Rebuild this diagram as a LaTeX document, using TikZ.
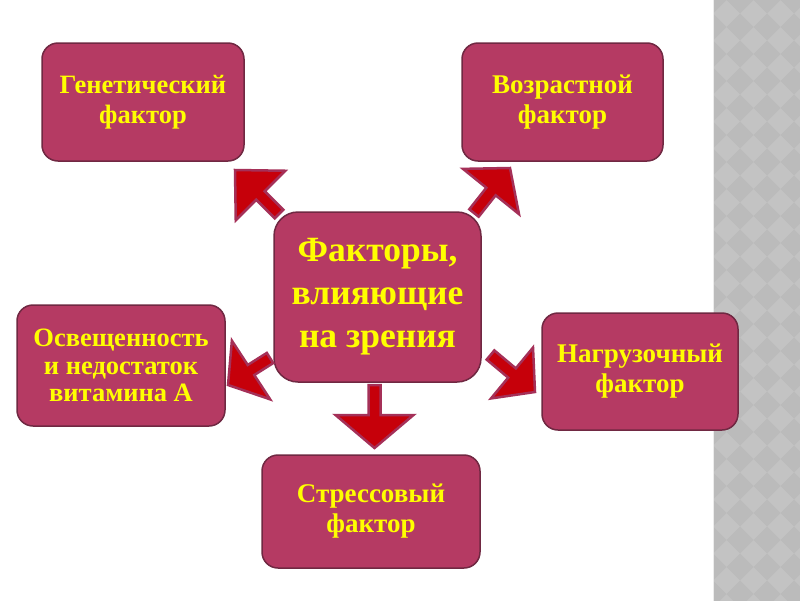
\documentclass[tikz,border=0pt]{standalone}
\usepackage{fontspec}
\setmainfont{Liberation Serif}
\usetikzlibrary{calc}
\definecolor{boxfill}{RGB}{181,58,99}
\definecolor{boxline}{RGB}{112,40,66}
\definecolor{arrfill}{RGB}{198,0,10}
\definecolor{arrline}{RGB}{165,48,88}
\definecolor{txtyellow}{RGB}{255,255,0}
\definecolor{stripA}{RGB}{195,195,195}
\definecolor{stripB}{RGB}{187,187,187}
\newcommand{\blockarr}[5]{%
  \draw[blockarrow] ($(#1)!#4!90:(#2)$) -- ($(#2)!#4!90:(#3)$) -- ($(#2)!#5!90:(#3)$) -- (#3)
    -- ($(#2)!#5!-90:(#3)$) -- ($(#2)!#4!-90:(#3)$) -- ($(#1)!#4!-90:(#2)$) -- cycle;}
\begin{document}
\begin{tikzpicture}[x=1pt,y=-1pt,
  factor/.style={draw=boxline, line width=1.5pt, fill=boxfill, rounded corners=16pt,
    text=txtyellow, font=\bfseries\fontsize{27}{30}\selectfont, align=center, inner sep=0pt},
  mainbox/.style={factor, rounded corners=24pt, font=\bfseries\fontsize{35.5}{43}\selectfont},
  blockarrow/.style={draw=arrline, fill=arrfill, line width=2.5pt, line join=miter}]
\useasboundingbox (0,0) rectangle (800,600);
\fill[white] (0,0) rectangle (800,600);
% patterned strip on the right
\begin{scope}
  \clip (713,-5) rectangle (805,610);
  \fill[stripA] (713,-5) rectangle (805,610);
  \foreach \i in {0,...,4} {
    \foreach \j in {0,...,23} {
      \fill[stripB] ({713+27*\i-13.5},{27*\j}) -- ({713+27*\i},{27*\j-13.5})
        -- ({713+27*\i+13.5},{27*\j}) -- ({713+27*\i},{27*\j+13.5}) -- cycle;
    }
  }
\end{scope}
\draw[white!85!gray, line width=1.2pt] (713.6,-5) -- (713.6,605);
% boxes
\node[factor, minimum width=202pt, minimum height=118pt, font=\bfseries\fontsize{26.5}{30}\selectfont] (gen) at (143,102) {Генетический\\фактор};
\node[factor, minimum width=201pt, minimum height=118pt] (voz) at (562.5,102) {Возрастной\\фактор};
\node[mainbox, minimum width=207pt, minimum height=170pt] (main) at (377.5,297) {Факторы,\\влияющие\\на зрения};
\node[factor, minimum width=208pt, minimum height=121pt, font=\bfseries\fontsize{26.5}{27.5}\selectfont] (osv) at (121,365.5) {Освещенность\\и недостаток\\витамина А};
\node[factor, minimum width=196pt, minimum height=117pt] (nag) at (640,371.5) {Нагрузочный\\фактор};
\node[factor, minimum width=218pt, minimum height=113pt] (str) at (371,511.5) {Стрессовый\\фактор};
% block arrows
\coordinate (a1s) at (279,214); \coordinate (a1b) at (260.5,195.5); \coordinate (a1t) at (235,170);
\coordinate (a2s) at (474,213); \coordinate (a2b) at (491,191.5); \coordinate (a2t) at (510,168);
\coordinate (a3s) at (270,358); \coordinate (a3b) at (251,370); \coordinate (a3t) at (228,385);
\coordinate (a4s) at (490.5,355); \coordinate (a4b) at (512,373); \coordinate (a4t) at (535,392);
\coordinate (a5s) at (374.5,385); \coordinate (a5b) at (374.5,415); \coordinate (a5t) at (374.5,448);
\blockarr{a1s}{a1b}{a1t}{6pt}{35pt}
\blockarr{a2s}{a2b}{a2t}{6pt}{36pt}
\blockarr{a3s}{a3b}{a3t}{6pt}{35pt}
\blockarr{a4s}{a4b}{a4t}{6pt}{33pt}
\blockarr{a5s}{a5b}{a5t}{6pt}{39pt}
\end{tikzpicture}
\end{document}
